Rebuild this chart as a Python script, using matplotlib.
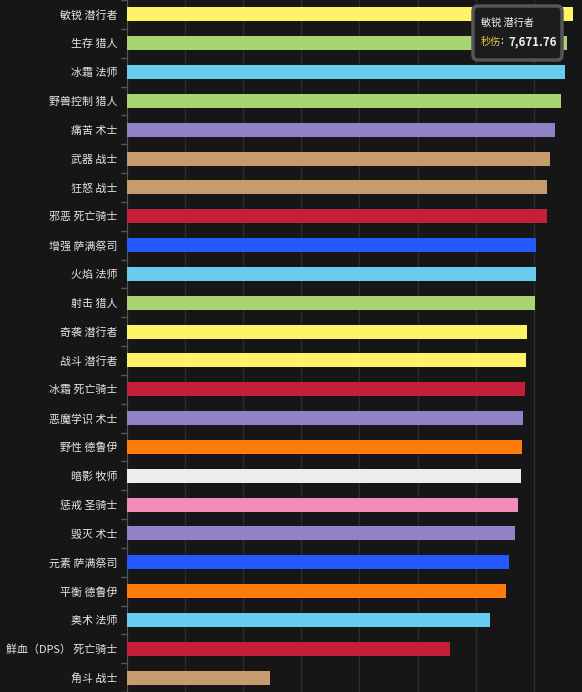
import numpy as np
import matplotlib
matplotlib.use("Agg")
import matplotlib.pyplot as plt
from matplotlib.patches import FancyBboxPatch

plt.rcParams['font.family'] = ['Noto Sans CJK SC', 'DejaVu Sans']

# specs, top to bottom
specs = ['敏锐 潜行者', '生存 猎人', '冰霜 法师', '野兽控制 猎人', '痛苦 术士',
         '武器 战士', '狂怒 战士', '邪恶 死亡骑士', '增强 萨满祭司', '火焰 法师',
         '射击 猎人', '奇袭 潜行者', '战斗 潜行者', '冰霜 死亡骑士', '恶魔学识 术士',
         '野性 德鲁伊', '暗影 牧师', '惩戒 圣骑士', '毁灭 术士', '元素 萨满祭司',
         '平衡 德鲁伊', '奥术 法师', '鲜血（DPS） 死亡骑士', '角斗 战士']
dps = [7671.76, 7573, 7539, 7470, 7367,
       7281, 7229, 7222, 7040, 7035,
       7022, 6885, 6867, 6850, 6816,
       6799, 6781, 6730, 6678, 6575,
       6523, 6248, 5559, 2461]
classes = ['rogue', 'hunter', 'mage', 'hunter', 'warlock',
           'warrior', 'warrior', 'dk', 'shaman', 'mage',
           'hunter', 'rogue', 'rogue', 'dk', 'warlock',
           'druid', 'priest', 'paladin', 'warlock', 'shaman',
           'druid', 'mage', 'dk', 'warrior']
class_colors = {'rogue': '#FFF468', 'hunter': '#AAD372', 'mage': '#68CCEF',
                'warlock': '#9482C9', 'warrior': '#C69B6D', 'dk': '#C41E3A',
                'shaman': '#2459FF', 'druid': '#FF7C0A', 'priest': '#EDEDED',
                'paladin': '#F48CBA'}

bg = '#161616'
W, H = 582, 692
fig = plt.figure(figsize=(W / 100, H / 100), dpi=100, facecolor=bg)
left = 127 / W
ax = fig.add_axes([left, 0, 1 - left, 1], facecolor=bg)

y = np.arange(len(specs))
ax.barh(y, dps, height=0.48, color=[class_colors[c] for c in classes], zorder=3)

ax.set_xlim(0, (W - 127) / 0.0581)
ax.set_ylim(23.46, -0.484)

ax.set_xticks(np.arange(0, 8000, 1000))
ax.xaxis.grid(True, color='#2c2c2c', linewidth=1, zorder=0)
ax.tick_params(axis='x', length=0, labelbottom=False)

ax.set_yticks(y)
ax.set_yticklabels(specs, fontsize=7.9, color='#e6e6e6', fontweight='medium')
ax.set_yticks(np.arange(-0.5, len(specs), 1), minor=True)
ax.tick_params(axis='y', which='major', length=0, pad=7)
ax.tick_params(axis='y', which='minor', length=4, color='#555555', width=1)

for s in ['top', 'right', 'bottom']:
    ax.spines[s].set_visible(False)
ax.spines['left'].set_color('#555555')

# tooltip
tip = FancyBboxPatch((473 / W, 1 - 60 / H), 89 / W, 54 / H,
                     boxstyle='round,pad=0,rounding_size=0.008',
                     transform=fig.transFigure, facecolor='#1c1c1c',
                     edgecolor='#555555', linewidth=2.5, zorder=10)
fig.patches.append(tip)
fig.text(481 / W, 1 - 23 / H, specs[0], fontsize=7.3, color='#f0f0f0',
         va='center', ha='left', zorder=11)
t1 = fig.text(481 / W, 1 - 41.5 / H, '秒伤', fontsize=7.3, color='#ecc94b',
              va='center', ha='left', zorder=11)
fig.canvas.draw()
bb = t1.get_window_extent()
fig.text(bb.x1 / W, 1 - 41.5 / H, ': ', fontsize=7.3, color='#f0f0f0',
         va='center', ha='left', zorder=11)
fig.text(bb.x1 / W + 7 / W, 1 - 41.5 / H, f'{dps[0]:,.2f}', fontsize=8.3,
         color='#f0f0f0', fontweight='bold', va='center', ha='left', zorder=11)

fig.savefig('out.png', dpi=100, facecolor=bg)
